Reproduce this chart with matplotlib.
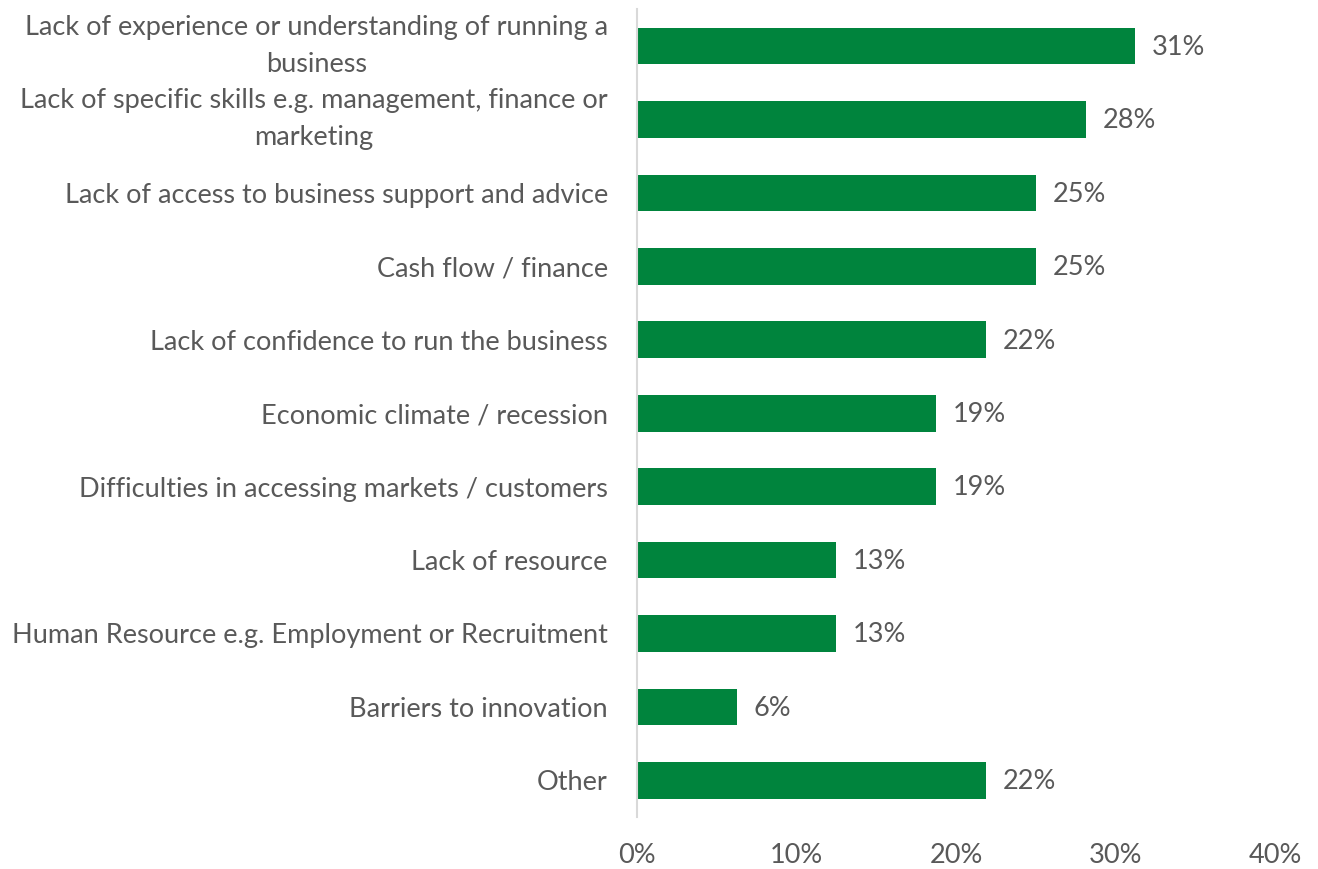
import matplotlib
matplotlib.use("Agg")
import matplotlib.pyplot as plt
from matplotlib.ticker import FuncFormatter
from decimal import Decimal, ROUND_HALF_UP

categories = [
    "Lack of experience or understanding of running a\nbusiness",
    "Lack of specific skills e.g. management, finance or\nmarketing",
    "Lack of access to business support and advice",
    "Cash flow / finance",
    "Lack of confidence to run the business",
    "Economic climate / recession",
    "Difficulties in accessing markets / customers",
    "Lack of resource",
    "Human Resource e.g. Employment or Recruitment",
    "Barriers to innovation",
    "Other",
]
values = [31.25, 28.125, 25.0, 25.0, 21.875, 18.75, 18.75, 12.5, 12.5, 6.25, 21.875]
x_ticks = [0, 10, 20, 30, 40]

GREEN = "#00843D"
TEXT = "#595959"
AXIS = "#D9D9D9"
FONT = "Lato"
SIZE = 19.5


def pct(v):
    return f"{Decimal(str(v)).quantize(Decimal('1'), rounding=ROUND_HALF_UP)}%"


fig = plt.figure(figsize=(13.18, 8.69), dpi=100)
ax = fig.add_axes([0.4833, 0.0598, 0.9674 - 0.4833, 0.9893 - 0.0598])

pos = list(range(len(categories)))
bars = ax.barh(pos, values, height=0.5, color=GREEN)

ax.set_ylim(len(categories) - 0.5, -0.5)
ax.set_xlim(0, 40)
ax.set_yticks(pos)
ax.set_yticklabels(categories, fontsize=SIZE, color=TEXT, family=FONT,
                   multialignment="center", linespacing=1.6)
# wrapped labels are centred on their whole block
for lbl in ax.get_yticklabels():
    if "\n" in lbl.get_text():
        lbl.set_va("center")

ax.set_xticks(x_ticks)
ax.xaxis.set_major_formatter(FuncFormatter(lambda v, p: f"{v:.0f}%"))
for lbl in ax.get_xticklabels():
    lbl.set_fontsize(SIZE)
    lbl.set_color(TEXT)
    lbl.set_family(FONT)

ax.tick_params(axis="y", length=0, pad=21)
ax.tick_params(axis="x", length=0, pad=19)

for s in ("top", "right", "bottom"):
    ax.spines[s].set_visible(False)
ax.spines["left"].set_color(AXIS)
ax.spines["left"].set_linewidth(1.5)

for b, v in zip(bars, values):
    ax.annotate(pct(v), (b.get_width(), b.get_y() + b.get_height() / 2),
                xytext=(12, -1), textcoords="offset points", va="center",
                ha="left", fontsize=SIZE, color=TEXT, family=FONT)

fig.savefig("out.png", dpi=100)
